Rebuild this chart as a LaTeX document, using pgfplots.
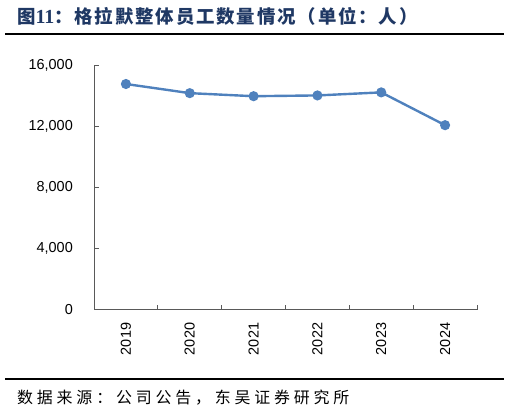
\documentclass[border=0pt]{standalone}
\usepackage{pgfplots}
\pgfplotsset{compat=1.18}
\usepackage{fontspec}
\setmainfont{Liberation Sans}
\newfontfamily\cjk{Noto Sans CJK SC}
\newfontfamily\cjktitle{Noto Sans CJK SC}[LetterSpace=10]
\newfontfamily\cjksrc{Noto Sans CJK SC}[LetterSpace=24]
\newfontfamily\serifnum{Liberation Serif}
\definecolor{titleblue}{HTML}{1F3864}
\definecolor{linec}{HTML}{4F81BD}
\definecolor{axisc}{HTML}{595959}
\begin{document}
\begin{tikzpicture}[x=1bp,y=1bp]
\path[use as bounding box] (0,0) rectangle (510,414);
\node[anchor=west,inner sep=0pt,text=titleblue] at (17,398)
  {\fontsize{18.5}{20}\selectfont\cjktitle\bfseries 图{\serifnum\bfseries\fontsize{20}{20}\selectfont 11}：格拉默整体员工数量情况（单位：人）};
\draw[line width=2.2bp] (5,380) -- (504,380);
\draw[line width=2.2bp] (5,35) -- (504,35);
\node[anchor=west,inner sep=0pt] at (17,16)
  {\fontsize{16}{18}\selectfont\cjksrc 数据来源：公司公告，东吴证券研究所};
\begin{axis}[
  at={(94bp,104.3bp)}, anchor=south west,
  scale only axis, width=383bp, height=244bp,
  xmin=0, xmax=6, ymin=0, ymax=16000,
  axis x line*=bottom, axis y line*=left,
  axis line style={axisc, line width=0.9bp},
  every tick/.style={axisc, line width=0.9bp},
  xtick={0.5,1.5,2.5,3.5,4.5,5.5},
  xticklabels={2019,2020,2021,2022,2023,2024},
  major x tick style={draw=none},
  minor xtick={0,1,2,3,4,5,6},
  minor tick length=5bp,
  major tick length=5bp,
  tick align=inside,
  ytick={0,4000,8000,12000,16000},
  scaled y ticks=false,
  /pgf/number format/fixed,
  /pgf/number format/1000 sep={,},
  /pgf/number format/assume math mode=true,
  yticklabel style={inner sep=0pt, xshift=-21bp, font=\fontsize{14.5}{16}\selectfont},
  xticklabel style={rotate=90, anchor=east, inner sep=0pt, font=\fontsize{14.5}{16}\selectfont},
  xticklabel shift=13bp,
  clip=false,
]
\addplot[color=linec, line width=2.4bp, mark=*, mark size=3.8bp, mark options={fill=linec, draw=linec}]
  coordinates {(0.5,14800) (1.5,14200) (2.5,14000) (3.5,14050) (4.5,14250) (5.5,12100)};
\end{axis}
\end{tikzpicture}
\end{document}
